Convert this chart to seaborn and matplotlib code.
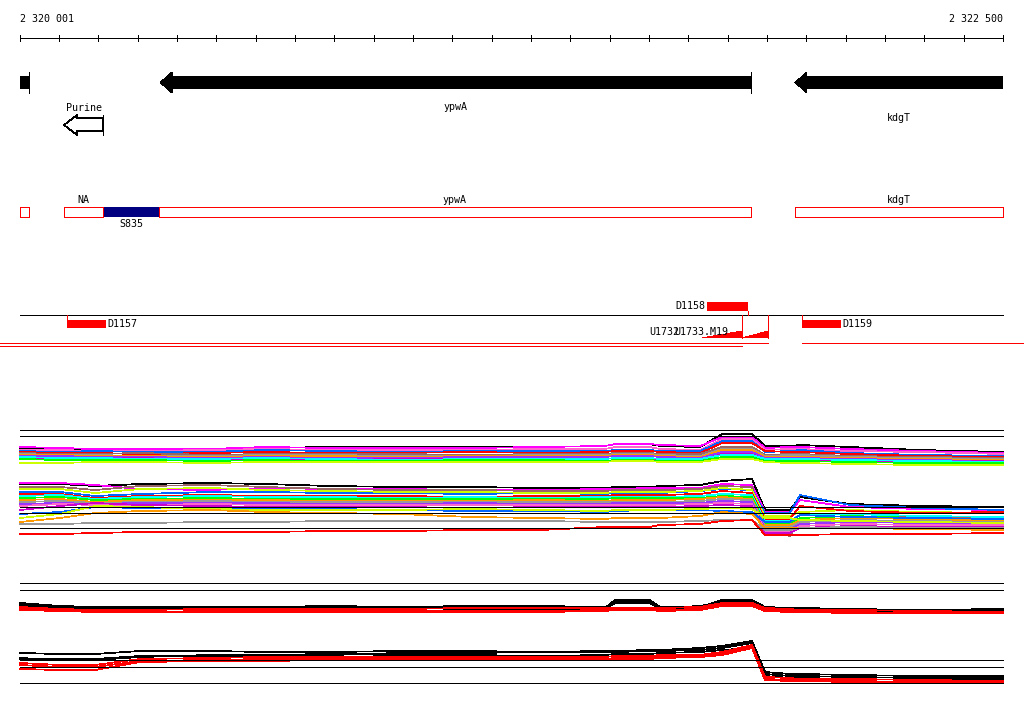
#!/usr/bin/env python3
# -*- coding: utf-8 -*-
"""
Genome browser view, region 2 320 001 - 2 322 500 (ypwA / kdgT)
annotation tracks + tiling array profiles
"""
#%% Packages
import numpy as np
import pandas as pd
import matplotlib
matplotlib.use('Agg')
import matplotlib.pyplot as plt
import seaborn as sns

#%% Data

view_start, view_end = 2320001, 2322500
ruler_ticks = list(range(2320000, 2322501, 100))

# genes (all on minus strand)
gene_names = ['', 'ypwA', 'kdgT']
gene_left = [2319900, 2320357, 2321971]
gene_right = [2320024, 2321859, 2322640]

# promoter element
purine_left, purine_right = 2320113, 2320212

# transcript segments
seg_names = ['', 'NA', 'S835', 'ypwA', 'kdgT']
seg_left = [2319900, 2320113, 2320212, 2320354, 2321971]
seg_right = [2320024, 2320212, 2320354, 2321859, 2322640]
seg_filled = [False, False, True, False, False]

# binding sites
site_names = ['D1157', 'D1158', 'D1159']
site_left = [2320120, 2321747, 2321989]
site_right = [2320220, 2321852, 2322088]
site_strand = [1, -1, 1]

# transcription starts (ramps)
ramp_names = ['U1732', 'U1733.M19']
ramp_left = [2321735, 2321836]
ramp_right = [2321836, 2321903]

# covered regions
cov_left = [2319940, 2319940, 2321989]
cov_right = [2321903, 2321836, 2322560]

# tiling probes
probe_pos = [2320001, 2320103, 2320192, 2320306, 2320484, 2320624, 2320789, 2320967,
             2321145, 2321323, 2321488, 2321514, 2321602, 2321628, 2321730, 2321786,
             2321862, 2321895, 2321958, 2321984, 2322111, 2322289, 2322500]

# upper panel, plus strand
up_fwd = {
    'a01': [97, 96, 95, 95, 94, 97, 98, 98, 98, 98, 99, 101, 101, 99, 98, 111, 111, 99, 99, 100, 98, 95, 93],
    'a02': [98, 97, 96, 96, 96, 98, 97, 97, 97, 98, 99, 101, 101, 100, 99, 108, 108, 97, 98, 98, 96, 94, 92],
    'a03': [95, 95, 94, 94, 95, 96, 95, 95, 95, 96, 96, 98, 98, 96, 95, 106, 106, 95, 96, 96, 94, 93, 91],
    'a04': [94, 93, 94, 93, 93, 95, 94, 93, 94, 94, 94, 95, 95, 94, 94, 104, 104, 93, 94, 95, 92, 90, 89],
    'a05': [93, 92, 92, 91, 92, 93, 92, 92, 93, 92, 93, 94, 94, 93, 92, 102, 102, 94, 93, 93, 91, 89, 88],
    'a06': [92, 91, 91, 92, 90, 91, 91, 91, 90, 91, 91, 92, 92, 91, 91, 98, 98, 90, 91, 91, 89, 88, 87],
    'a07': [91, 90, 90, 89, 89, 90, 90, 89, 89, 90, 90, 91, 91, 90, 89, 96, 96, 89, 90, 90, 88, 87, 86],
    'a08': [90, 90, 89, 89, 88, 89, 89, 88, 89, 89, 89, 90, 90, 89, 88, 95, 95, 88, 88, 88, 87, 86, 85],
    'a09': [89, 89, 88, 88, 87, 88, 87, 87, 88, 88, 88, 89, 89, 88, 87, 93, 93, 87, 87, 87, 86, 85, 84],
    'a10': [87, 86, 86, 87, 85, 86, 85, 86, 86, 85, 86, 87, 87, 85, 85, 91, 91, 85, 85, 85, 84, 83, 84],
    'a11': [88, 87, 87, 86, 86, 87, 86, 85, 86, 86, 86, 87, 87, 86, 86, 90, 90, 86, 86, 86, 85, 84, 83],
    'a12': [86, 85, 85, 85, 84, 85, 84, 84, 85, 85, 84, 85, 85, 84, 84, 88, 88, 84, 84, 84, 83, 82, 82],
    'a13': [82, 82, 83, 83, 82, 83, 83, 83, 83, 83, 83, 84, 84, 83, 83, 86, 86, 83, 82, 82, 81, 80, 80],
}
# upper panel, minus strand
up_rev = {
    'b01': [61, 61, 59, 61, 62, 61, 59, 58, 58, 57, 57, 58, 58, 59, 60, 64, 66, 35, 35, 48, 41, 39, 38],
    'b02': [62, 62, 60, 56, 55, 57, 56, 56, 55, 55, 56, 56, 57, 57, 57, 61, 60, 33, 33, 45, 38, 36, 35],
    'b03': [58, 58, 55, 59, 60, 58, 56, 55, 55, 54, 54, 55, 55, 55, 56, 59, 58, 15, 9, 25, 27, 28, 28],
    'b04': [53, 53, 49, 51, 53, 53, 52, 52, 51, 52, 51, 52, 52, 52, 54, 56, 55, 32, 32, 50, 40, 37, 35],
    'b05': [56, 56, 52, 56, 57, 55, 54, 53, 53, 52, 52, 53, 53, 53, 54, 57, 55, 29, 29, 33, 35, 33, 32],
    'b06': [51, 51, 47, 49, 50, 49, 49, 49, 48, 49, 49, 50, 50, 50, 51, 54, 52, 26, 26, 39, 34, 32, 33],
    'b07': [49, 50, 46, 48, 49, 48, 48, 47, 48, 47, 48, 48, 48, 48, 49, 51, 50, 24, 24, 30, 31, 29, 28],
    'b08': [47, 48, 45, 46, 47, 46, 46, 46, 46, 46, 46, 47, 47, 47, 47, 49, 48, 22, 22, 27, 29, 27, 26],
    'b09': [45, 46, 43, 45, 45, 45, 44, 44, 44, 45, 44, 45, 45, 45, 46, 48, 46, 20, 20, 25, 27, 26, 24],
    'b10': [43, 44, 42, 43, 44, 43, 43, 43, 43, 43, 43, 43, 43, 43, 44, 46, 45, 18, 18, 23, 25, 24, 23],
    'b11': [41, 42, 41, 42, 42, 42, 41, 41, 42, 41, 41, 42, 42, 42, 42, 44, 43, 16, 16, 21, 23, 22, 21],
    'b12': [39, 41, 40, 40, 41, 40, 40, 40, 40, 40, 40, 40, 40, 40, 41, 42, 41, 14, 14, 19, 21, 20, 20],
    'b13': [35, 39, 42, 40, 39, 38, 38, 38, 37, 38, 38, 38, 38, 38, 39, 40, 39, 12, 12, 17, 19, 18, 18],
    'b14': [31, 33, 38, 37, 37, 36, 36, 35, 34, 34, 33, 34, 35, 35, 35, 34, 33, 23, 23, 30, 28, 27, 26],
    'b15': [27, 31, 39, 38, 36, 35, 35, 35, 36, 35, 34, 35, 35, 35, 36, 37, 36, 27, 27, 25, 24, 23, 22],
    'b16': [23, 27, 32, 34, 35, 33, 32, 31, 28, 27, 26, 27, 27, 27, 29, 33, 31, 17, 17, 17, 17, 16, 15],
    'b17': [21, 21, 22, 22, 23, 23, 24, 24, 24, 24, 23, 23, 23, 23, 24, 25, 25, 15, 15, 17, 18, 17, 17],
    'b18': [11, 11, 12, 13, 13, 13, 14, 14, 15, 15, 18, 18, 18, 20, 21, 24, 25, 10, 10, 10, 11, 11, 12],
}
up_refs = [115, 109, 38, 32, 17]

# lower panel (summary), plus strand
lo_fwd = {
    'c01': [97, 94, 93, 93, 93, 93, 94, 93, 93, 93, 92, 100, 100, 93, 93, 100, 100, 93, 92, 92, 91, 90, 91],
    'c02': [95, 93, 92, 92, 92, 92, 92, 93, 94, 94, 93, 98, 98, 92, 94, 98, 98, 92, 91, 90, 90, 89, 90],
    'c03': [94, 92, 92, 91, 91, 90, 91, 92, 91, 91, 91, 97, 97, 91, 92, 96, 96, 90, 89, 89, 88, 89, 89],
    'c04': [93, 91, 90, 90, 91, 91, 91, 91, 92, 92, 92, 92, 92, 92, 93, 97, 97, 92, 91, 90, 90, 89, 88],
    'c05': [91, 90, 89, 88, 89, 89, 89, 90, 89, 89, 90, 91, 91, 90, 91, 96, 96, 90, 90, 89, 88, 87, 88],
    'c06': [90, 89, 88, 88, 88, 88, 88, 88, 88, 88, 89, 90, 90, 89, 90, 94, 94, 89, 88, 88, 87, 87, 87],
}
# lower panel (summary), minus strand
lo_rev = {
    'd01': [47, 46, 46, 49, 49, 48, 48, 49, 49, 48, 49, 49, 50, 50, 52, 54, 59, 28, 26, 26, 25, 24, 24],
    'd02': [41, 41, 41, 44, 44, 44, 45, 47, 47, 48, 48, 48, 49, 49, 50, 52, 57, 26, 24, 24, 23, 22, 22],
    'd03': [42, 40, 40, 43, 45, 45, 46, 45, 45, 44, 45, 46, 46, 47, 48, 50, 52, 24, 22, 22, 21, 20, 21],
    'd04': [37, 35, 35, 41, 42, 43, 43, 43, 43, 43, 43, 44, 44, 45, 45, 48, 55, 23, 22, 21, 21, 20, 19],
    'd05': [35, 33, 33, 39, 40, 41, 41, 42, 42, 42, 41, 42, 43, 43, 44, 47, 53, 21, 20, 20, 19, 18, 18],
    'd06': [31, 30, 30, 38, 39, 39, 40, 40, 40, 41, 40, 41, 41, 42, 43, 45, 52, 20, 19, 19, 18, 17, 18],
}
lo_refs = [117, 110, 40, 33, 17]

#%% Style

up_fwd_colors = ['#000000', '#ff00ff', '#ff66cc', '#0066ff', '#ff0000', '#996666', '#999999',
                 '#ff9900', '#9933ff', '#cc00cc', '#00ffff', '#00ff00', '#ccff00']
up_rev_colors = ['#000000', '#ff00ff', '#996666', '#0066ff', '#ccff00', '#ff0000', '#00ffff',
                 '#00ff00', '#ff9900', '#999999', '#9933ff', '#ff66cc', '#cc00cc', '#0066ff',
                 '#ccff00', '#ff9900', '#999999', '#ff0000']
lo_colors = ['#000000', '#000000', '#000000', '#ff0000', '#ff0000', '#ff0000']

sns.set_theme(style='white')
plt.rcParams['font.family'] = ['DejaVu Sans Mono', 'DejaVu Sans']
plt.rcParams['text.color'] = 'black'
plt.rcParams['lines.antialiased'] = False
plt.rcParams['patch.antialiased'] = False
FS = 7.2
LW = 0.55

BP_PX = (view_end - view_start) / 983.0
x_lo = view_start - 20 * BP_PX
x_hi = view_start + 1004 * BP_PX

fig = plt.figure(figsize=(10.24, 7.14), dpi=100)
ax = fig.add_axes([0, 0, 1, 1])
ax.set_xlim(x_lo, x_hi)
ax.set_ylim(714, 0)
ax.axis('off')

#%% Ruler
ax.hlines(38, view_start, view_end, color='black', lw=LW)
ax.vlines(ruler_ticks, 35, 41, color='black', lw=LW)
ax.text(view_start, 19, '2 320 001', ha='left', va='center', fontsize=FS)
ax.text(view_end, 19, '2 322 500', ha='right', va='center', fontsize=FS)

#%% Genes
head = 12 * BP_PX
label_y = [107, 107, 118]
for name, l, r, ly in zip(gene_names, gene_left, gene_right, label_y):
    cl, cr = max(l, view_start), min(r, view_end)
    if l >= view_start:
        xs = [l, l + head, l + head, cr, cr, l + head, l + head]
        ys = [82.5, 72, 76, 76, 89, 89, 93]
    else:
        xs = [cl, cr, cr, cl]
        ys = [76, 76, 89, 89]
    ax.fill(xs, ys, color='black', lw=0)
    if r <= view_end:
        ax.vlines(r, 72, 93, color='black', lw=LW)
    if name:
        ax.text((cl + cr) / 2, ly, name, ha='center', va='center', fontsize=FS)

# Purine element (open arrow)
ph = 13 * BP_PX
ax.fill([purine_left, purine_left + ph, purine_left + ph, purine_right, purine_right,
         purine_left + ph, purine_left + ph],
        [125, 115, 118, 118, 131, 131, 135], facecolor='white', edgecolor='black', lw=LW)
ax.vlines(purine_right, 115, 135, color='black', lw=LW)
ax.text((purine_left + purine_right) / 2, 108, 'Purine', ha='center', va='center', fontsize=FS)

#%% Transcript segments
for name, l, r, f in zip(seg_names, seg_left, seg_right, seg_filled):
    cl, cr = max(l, view_start), min(r, view_end)
    if f:
        ax.fill([cl, cr, cr, cl], [207, 207, 217, 217], color='#000080', lw=0)
    else:
        ax.plot([cl, cr, cr, cl, cl], [207, 207, 217, 217, 207], color='#ff0000', lw=0.72)
    if name:
        ty = 224 if f else 200
        ax.text((cl + cr) / 2, ty, name, ha='center', va='center', fontsize=FS)

#%% Sites
ax.hlines(315, view_start, view_end, color='black', lw=LW)
for name, l, r, s in zip(site_names, site_left, site_right, site_strand):
    if s > 0:
        ax.fill([l, r, r, l], [320, 320, 328, 328], color='red', lw=0)
        ax.vlines(l, 315, 320, color='red', lw=LW)
        ax.text(r + 1 * BP_PX, 324, name, ha='left', va='center', fontsize=FS)
    else:
        ax.fill([l, r, r, l], [302, 302, 311, 311], color='red', lw=0)
        ax.vlines(r, 311, 315, color='red', lw=LW)
        ax.text(l - 1 * BP_PX, 306, name, ha='right', va='center', fontsize=FS)

label_dx = [-23, -14]
for name, l, r, dx in zip(ramp_names, ramp_left, ramp_right, label_dx):
    ax.fill([l, r, r], [338, 338, 331], color='red', lw=0)
    ax.vlines(r, 315, 338, color='red', lw=LW)
    ax.text(l + dx * BP_PX, 332, name, ha='right', va='center', fontsize=FS)

cov_y = [343, 346, 343]
for l, r, y in zip(cov_left, cov_right, cov_y):
    ax.hlines(y, l, r, color='red', lw=LW)

#%% Profiles
def long_df(d):
    rows = []
    for k, v in d.items():
        rows.append(pd.DataFrame({'pos': probe_pos, 'signal': v, 'sample': k}))
    return pd.concat(rows, ignore_index=True)


def draw_panel(bottom_px, groups, refs):
    pax = fig.add_axes([0, (714 - bottom_px) / 714, 1, 125 / 714])
    pax.set_xlim(x_lo, x_hi)
    pax.set_ylim(0, 125)
    pax.patch.set_alpha(0)
    pax.axis('off')
    for d, cols in groups:
        df = long_df(d)
        pal = dict(zip(d.keys(), cols))
        sns.lineplot(data=df, x='pos', y='signal', hue='sample', palette=pal,
                     estimator=None, legend=False, lw=LW, ax=pax)
    pax.hlines(refs, view_start, view_end, color='black', lw=LW)
    return pax


draw_panel(545, [(up_fwd, up_fwd_colors), (up_rev, up_rev_colors)], up_refs)
draw_panel(700, [(lo_fwd, lo_colors), (lo_rev, lo_colors)], lo_refs)

plt.savefig('out.png', dpi=100)
